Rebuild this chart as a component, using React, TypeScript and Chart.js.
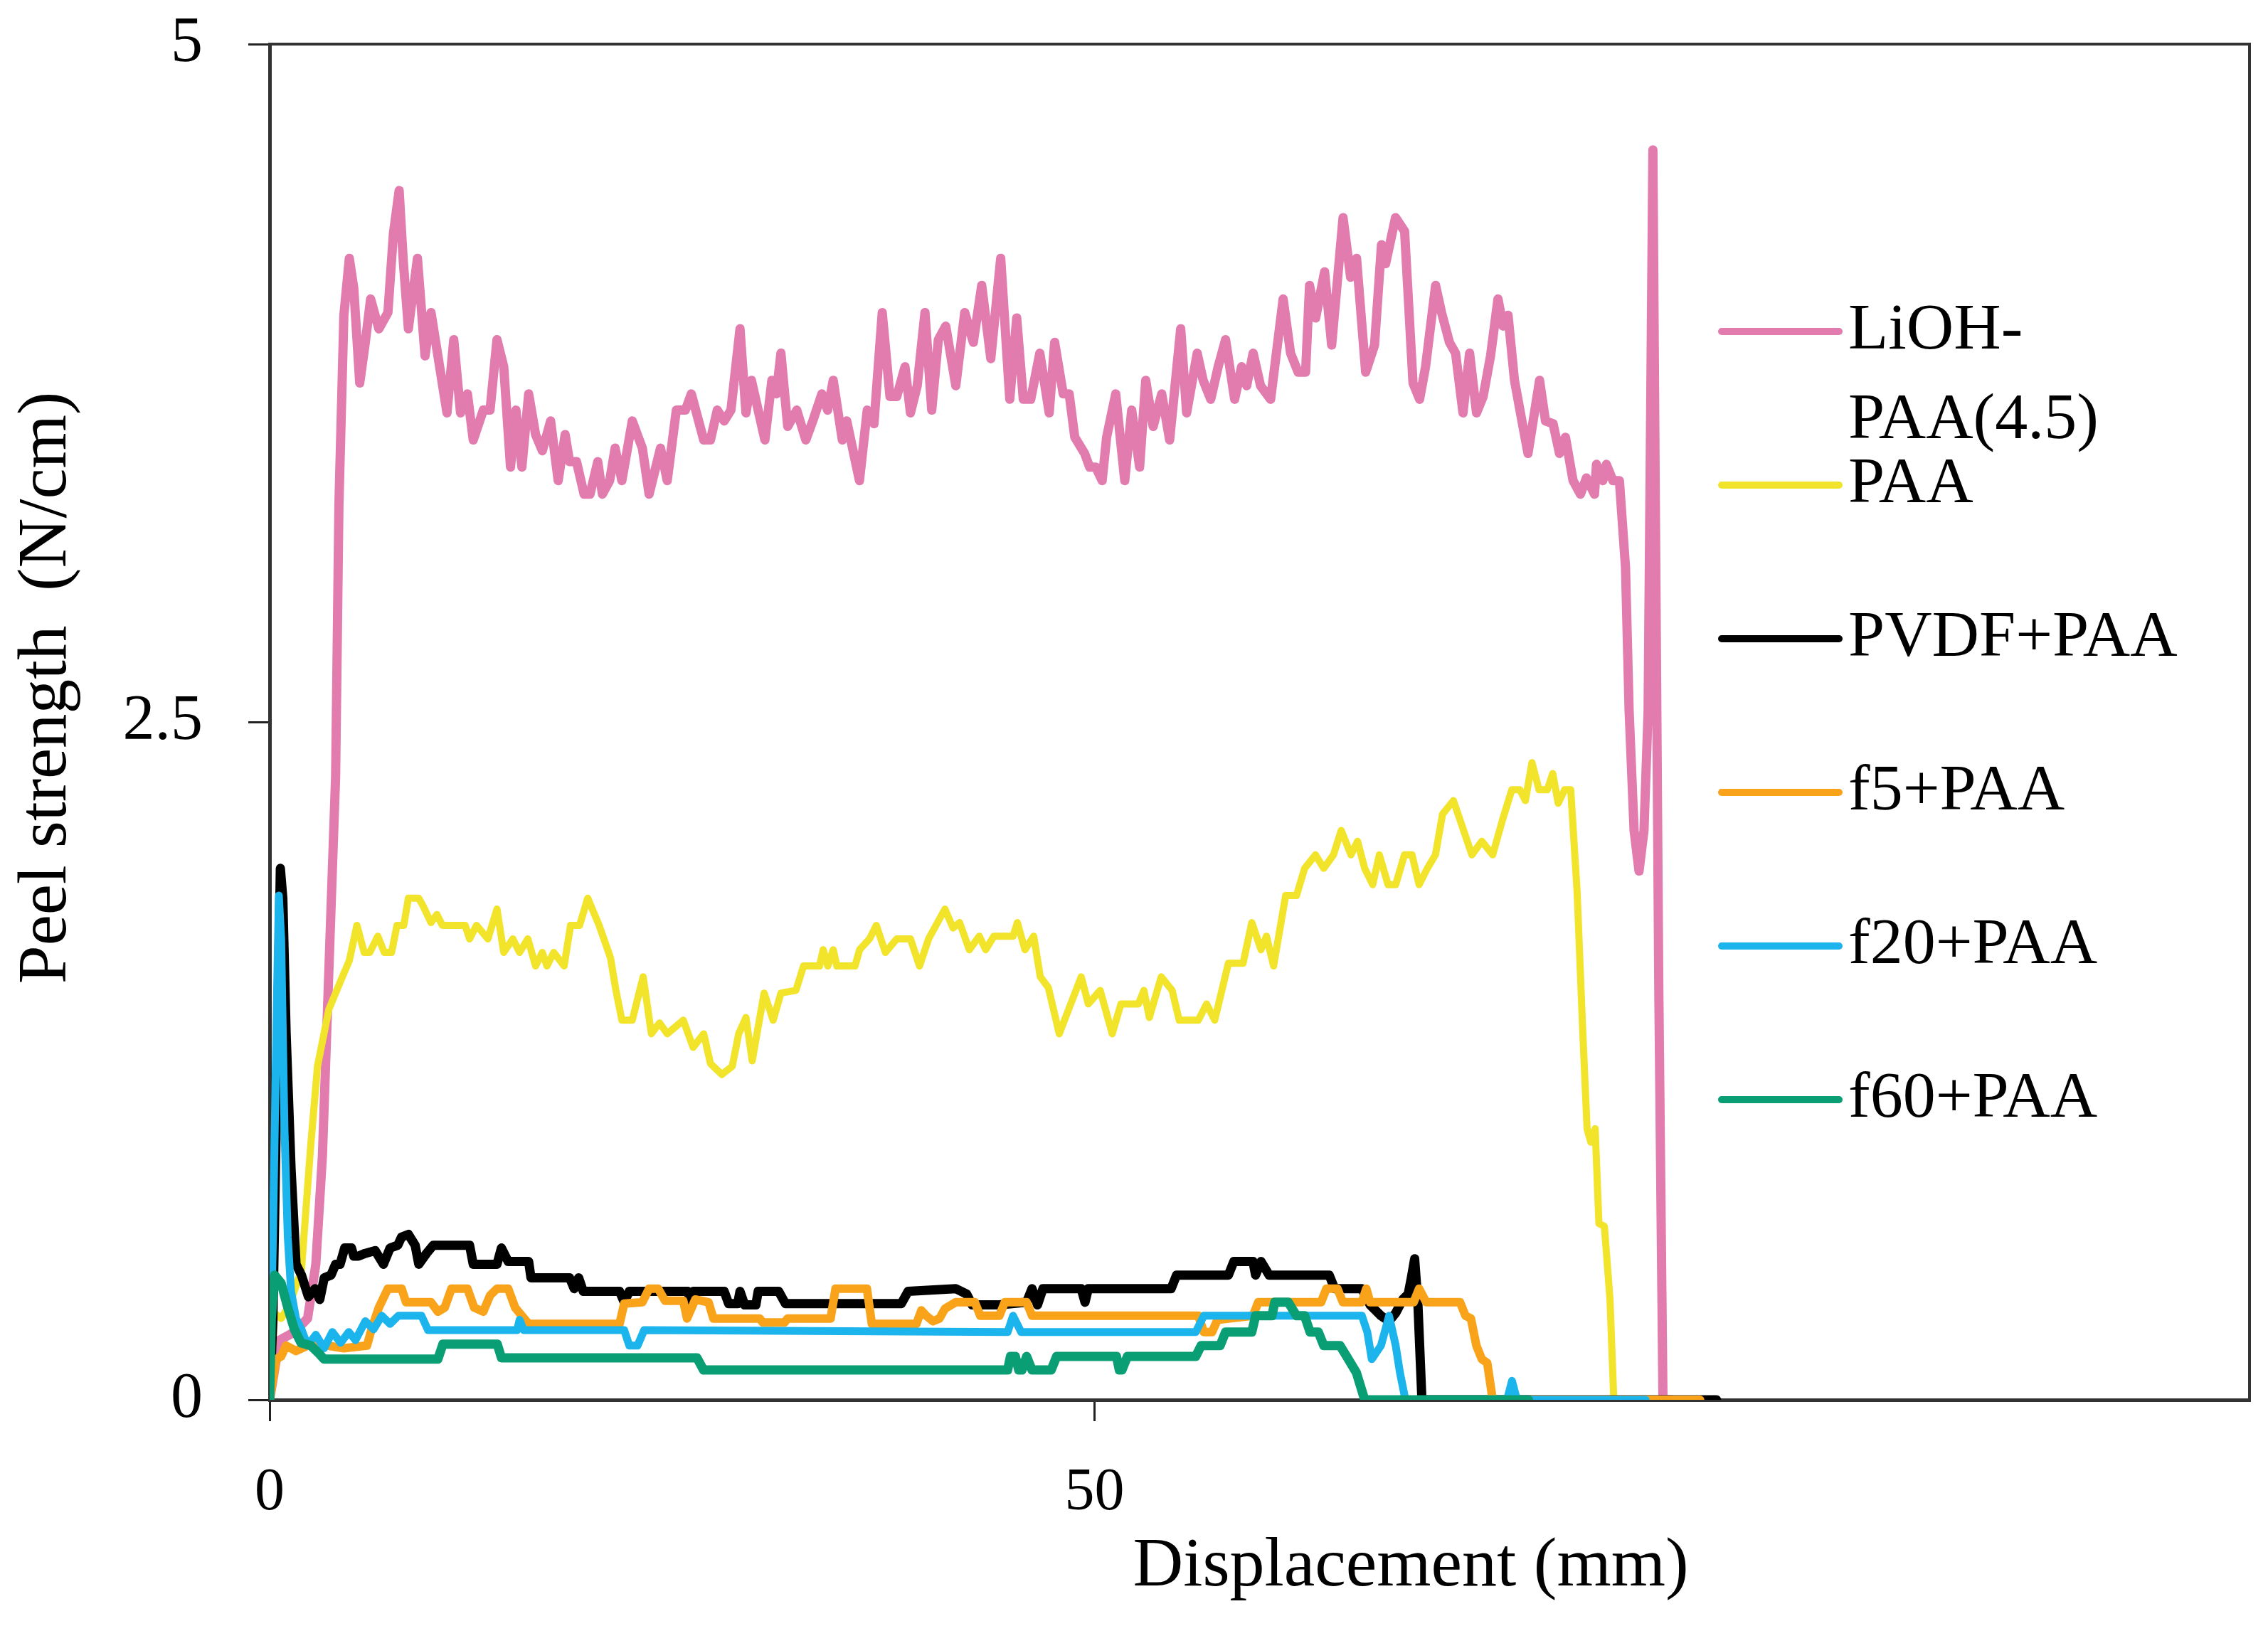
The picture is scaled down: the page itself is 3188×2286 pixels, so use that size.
import React, { useEffect, useRef } from "react";
import { Chart, registerables } from "chart.js";

Chart.register(...registerables);

const CANVAS_W = 3188;
const CANVAS_H = 2286;

const seriesLabels = ["LiOH-PAA(4.5)", "PAA", "PVDF+PAA", "f5+PAA", "f20+PAA", "f60+PAA"];
const seriesColors = ["#E27BAE", "#F2E32B", "#000000", "#F9A31B", "#1BB4EC", "#0A9E74"];
const seriesWidths = [13, 10, 13, 12, 11, 13];
const xTicks = [0, 50];
const yTicks = [0, 2.5, 5];
const xTitle = "Displacement (mm)";
const yTitle = "Peel strength  (N/cm)";

const liohPaa45 = [
  [0, 0], [0.6, 0.22], [1.5, 0.25], [2.3, 0.3], [2.8, 0.5], [3.2, 0.9], [3.6, 1.6], [4.0, 2.3], [4.2, 3.3], [4.5, 4.0],
  [4.83, 4.21], [5.1, 4.1], [5.46, 3.75], [5.8, 3.9], [6.12, 4.06], [6.62, 3.95], [7.17, 4.01], [7.5, 4.3], [7.85, 4.46], [8.1, 4.2],
  [8.41, 3.95], [8.96, 4.21], [9.42, 3.85], [9.78, 4.01], [10.2, 3.85], [10.75, 3.64], [11.16, 3.91], [11.57, 3.64], [11.99, 3.71], [12.34, 3.54],
  [12.95, 3.65], [13.36, 3.65], [13.78, 3.91], [14.19, 3.81], [14.6, 3.44], [14.93, 3.65], [15.29, 3.44], [15.7, 3.71], [16.12, 3.56], [16.53, 3.5],
  [17.03, 3.61], [17.49, 3.39], [17.91, 3.56], [18.18, 3.46], [18.6, 3.46], [19.06, 3.34], [19.42, 3.34], [19.89, 3.46], [20.17, 3.34], [20.61, 3.39],
  [20.94, 3.51], [21.35, 3.39], [21.98, 3.61], [22.59, 3.51], [23.0, 3.34], [23.69, 3.51], [24.1, 3.39], [24.65, 3.65], [25.2, 3.65], [25.56, 3.71],
  [26.31, 3.54], [26.72, 3.54], [27.13, 3.65], [27.55, 3.61], [27.96, 3.65], [28.51, 3.95], [28.87, 3.64], [29.2, 3.76], [30.02, 3.54], [30.44, 3.76],
  [30.71, 3.71], [30.99, 3.86], [31.4, 3.59], [31.95, 3.65], [32.5, 3.54], [32.92, 3.61], [33.47, 3.71], [33.82, 3.65], [34.16, 3.76], [34.71, 3.54],
  [34.98, 3.61], [35.75, 3.39], [36.22, 3.65], [36.63, 3.6], [37.13, 4.01], [37.6, 3.7], [38.01, 3.7], [38.51, 3.81], [38.84, 3.64], [39.25, 3.74],
  [39.72, 4.01], [40.13, 3.65], [40.53, 3.91], [40.98, 3.96], [41.59, 3.74], [42.13, 4.01], [42.65, 3.9], [43.16, 4.11], [43.71, 3.84], [44.31, 4.21],
  [44.86, 3.69], [45.28, 3.99], [45.68, 3.69], [46.13, 3.69], [46.68, 3.86], [47.25, 3.64], [47.58, 3.9], [48.1, 3.71], [48.46, 3.71], [48.8, 3.55],
  [49.4, 3.49], [49.7, 3.44], [50.07, 3.44], [50.46, 3.39], [50.73, 3.55], [51.28, 3.71], [51.83, 3.39], [52.25, 3.65], [52.73, 3.44], [53.1, 3.76],
  [53.55, 3.59], [54.07, 3.71], [54.55, 3.54], [55.22, 3.95], [55.58, 3.64], [56.22, 3.86], [56.58, 3.76], [57.04, 3.69], [57.49, 3.81], [57.94, 3.91],
  [58.49, 3.69], [58.91, 3.81], [59.22, 3.74], [59.61, 3.86], [60.06, 3.74], [60.67, 3.69], [61.43, 4.06], [61.88, 3.86], [62.34, 3.79], [62.79, 3.79],
  [63.03, 4.11], [63.4, 3.99], [63.94, 4.16], [64.37, 3.89], [65.06, 4.36], [65.52, 4.14], [65.88, 4.21], [66.43, 3.79], [66.97, 3.89], [67.39, 4.26],
  [67.64, 4.19], [68.24, 4.36], [68.79, 4.31], [69.3, 3.75], [69.7, 3.69], [70.06, 3.81], [70.67, 4.11], [71.03, 4.01], [71.51, 3.9], [71.88, 3.86],
  [72.33, 3.64], [72.73, 3.86], [73.15, 3.64], [73.55, 3.7], [74.0, 3.85], [74.45, 4.06], [74.76, 3.96], [75.06, 4.0], [75.45, 3.76], [75.81, 3.64],
  [76.27, 3.49], [76.97, 3.76], [77.33, 3.61], [77.79, 3.6], [78.18, 3.49], [78.54, 3.55], [79.0, 3.39], [79.45, 3.34], [79.81, 3.4], [80.3, 3.34],
  [80.42, 3.45], [80.81, 3.39], [81.02, 3.45], [81.42, 3.39], [81.81, 3.39], [82.18, 3.07], [82.4, 2.54], [82.7, 2.1], [83.0, 1.95], [83.3, 2.1],
  [83.55, 2.54], [83.84, 4.61], [84.0, 3.2], [84.2, 1.5], [84.45, 0], [85.0, 0],
];

const paa = [
  [0, 0], [0.3, 0.32], [0.7, 0.3], [1.2, 0.35], [1.6, 0.42], [1.93, 0.48], [2.48, 0.93], [2.9, 1.23], [3.59, 1.44], [4.0, 1.5],
  [4.41, 1.56], [4.83, 1.62], [5.29, 1.75], [5.73, 1.65], [6.07, 1.65], [6.56, 1.71], [6.95, 1.65], [7.39, 1.65], [7.72, 1.75], [8.13, 1.75],
  [8.41, 1.85], [9.04, 1.85], [9.31, 1.82], [9.78, 1.76], [10.14, 1.79], [10.47, 1.75], [11.85, 1.75], [12.12, 1.7], [12.54, 1.75], [13.23, 1.7],
  [13.78, 1.81], [14.19, 1.65], [14.74, 1.7], [15.15, 1.65], [15.65, 1.7], [16.12, 1.6], [16.53, 1.65], [16.81, 1.6], [17.22, 1.65], [17.85, 1.6],
  [18.24, 1.75], [18.79, 1.75], [19.28, 1.85], [19.97, 1.75], [20.66, 1.63], [20.99, 1.51], [21.35, 1.4], [21.98, 1.4], [22.64, 1.56], [23.14, 1.35],
  [23.63, 1.39], [24.1, 1.35], [25.07, 1.4], [25.67, 1.3], [26.31, 1.35], [26.72, 1.24], [27.41, 1.2], [28.04, 1.23], [28.43, 1.35], [28.87, 1.41],
  [29.25, 1.25], [29.97, 1.5], [30.52, 1.4], [30.99, 1.5], [31.9, 1.51], [32.36, 1.6], [33.33, 1.6], [33.55, 1.66], [33.83, 1.6], [34.16, 1.66],
  [34.38, 1.6], [35.48, 1.6], [35.76, 1.66], [36.36, 1.7], [36.77, 1.75], [37.32, 1.65], [38.01, 1.7], [38.84, 1.7], [39.39, 1.6], [39.94, 1.7],
  [40.93, 1.81], [41.42, 1.74], [41.82, 1.76], [42.41, 1.66], [43.01, 1.71], [43.4, 1.66], [43.9, 1.71], [45.06, 1.71], [45.32, 1.76], [45.78, 1.66],
  [46.31, 1.71], [46.71, 1.56], [47.2, 1.52], [47.86, 1.35], [48.43, 1.44], [49.19, 1.56], [49.62, 1.46], [50.34, 1.51], [51.07, 1.35], [51.6, 1.46],
  [52.66, 1.46], [52.99, 1.51], [53.32, 1.41], [54.04, 1.56], [54.7, 1.51], [55.13, 1.4], [56.29, 1.4], [56.79, 1.46], [57.28, 1.4], [58.11, 1.61],
  [59.0, 1.61], [59.53, 1.76], [60.09, 1.66], [60.42, 1.71], [60.85, 1.6], [61.58, 1.86], [62.24, 1.86], [62.73, 1.96], [63.39, 2.01], [63.89, 1.96],
  [64.48, 2.01], [64.95, 2.1], [65.54, 2.01], [65.94, 2.06], [66.37, 1.96], [66.86, 1.9], [67.26, 2.01], [67.79, 1.9], [68.25, 1.9], [68.78, 2.01],
  [69.24, 2.01], [69.67, 1.9], [70.17, 1.96], [70.66, 2.01], [71.09, 2.16], [71.75, 2.21], [72.31, 2.11], [72.87, 2.01], [73.47, 2.06], [74.13, 2.01],
  [74.73, 2.14], [75.29, 2.25], [75.78, 2.25], [76.11, 2.21], [76.51, 2.35], [76.94, 2.25], [77.44, 2.25], [77.77, 2.31], [78.1, 2.2], [78.49, 2.25],
  [78.86, 2.25], [79.25, 1.87], [79.58, 1.37], [79.85, 1.0], [80.08, 0.95], [80.34, 1.0], [80.57, 0.65], [80.9, 0.64], [81.24, 0.37], [81.47, 0],
  [82.0, 0],
];

const pvdfPaa = [
  [0, 0], [0.2, 0.3], [0.45, 1.2], [0.65, 1.96], [0.8, 1.85], [1.0, 1.35], [1.3, 0.85], [1.6, 0.5], [1.93, 0.46], [2.35, 0.38],
  [2.76, 0.41], [3.04, 0.37], [3.31, 0.45], [3.72, 0.46], [4.0, 0.5], [4.27, 0.5], [4.55, 0.56], [4.96, 0.56], [5.1, 0.53], [5.38, 0.53],
  [5.79, 0.54], [6.4, 0.55], [6.9, 0.5], [7.3, 0.56], [7.77, 0.57], [7.99, 0.6], [8.41, 0.61], [8.82, 0.57], [9.04, 0.5], [9.51, 0.54],
  [9.92, 0.57], [12.12, 0.57], [12.34, 0.5], [13.78, 0.5], [14.05, 0.56], [14.46, 0.51], [15.7, 0.51], [15.84, 0.45], [18.18, 0.45], [18.46, 0.41],
  [18.73, 0.45], [19.01, 0.4], [21.21, 0.4], [21.49, 0.36], [21.8, 0.4], [25.34, 0.4], [25.56, 0.355], [25.67, 0.4], [27.55, 0.4], [27.82, 0.355],
  [28.37, 0.355], [28.51, 0.4], [28.79, 0.35], [29.47, 0.35], [29.61, 0.4], [30.85, 0.4], [31.26, 0.355], [38.29, 0.355], [38.7, 0.4], [41.59, 0.41],
  [42.25, 0.39], [42.58, 0.35], [44.23, 0.35], [45.88, 0.36], [46.21, 0.41], [46.54, 0.35], [46.87, 0.41], [49.19, 0.41], [49.42, 0.36], [49.62, 0.41],
  [54.64, 0.41], [54.97, 0.46], [58.11, 0.46], [58.44, 0.51], [59.6, 0.51], [59.76, 0.46], [60.09, 0.51], [60.58, 0.46], [64.22, 0.46], [64.55, 0.41],
  [66.2, 0.41], [66.7, 0.35], [67.36, 0.31], [67.85, 0.29], [68.25, 0.32], [68.68, 0.37], [69.01, 0.39], [69.2, 0.45], [69.4, 0.52], [69.6, 0.35],
  [69.84, 0], [87.7, 0],
];

const f5Paa = [
  [0, 0], [0.4, 0.15], [0.7, 0.16], [1.0, 0.2], [1.6, 0.18], [2.3, 0.2], [3.5, 0.2], [4.5, 0.19], [5.9, 0.2], [6.2, 0.265],
  [6.62, 0.34], [7.17, 0.41], [8.0, 0.41], [8.27, 0.36], [9.78, 0.36], [10.2, 0.325], [10.61, 0.34], [11.02, 0.41], [11.99, 0.41], [12.4, 0.34],
  [12.95, 0.325], [13.36, 0.385], [13.78, 0.41], [14.46, 0.41], [14.88, 0.34], [15.29, 0.31], [15.7, 0.28], [21.21, 0.28], [21.49, 0.355], [22.59, 0.36],
  [23.0, 0.41], [23.55, 0.41], [23.97, 0.365], [25.07, 0.365], [25.3, 0.3], [25.8, 0.37], [26.6, 0.36], [26.9, 0.3], [29.7, 0.3], [29.9, 0.285],
  [31.2, 0.285], [31.4, 0.3], [34.0, 0.3], [34.3, 0.41], [36.2, 0.41], [36.5, 0.28], [39.2, 0.28], [39.5, 0.33], [39.8, 0.31], [40.21, 0.29],
  [40.6, 0.3], [40.93, 0.336], [41.59, 0.36], [42.74, 0.36], [43.07, 0.31], [44.23, 0.31], [44.56, 0.36], [45.88, 0.36], [46.21, 0.31], [56.29, 0.31],
  [56.62, 0.25], [57.12, 0.25], [57.45, 0.295], [59.6, 0.31], [59.92, 0.36], [63.73, 0.36], [64.05, 0.41], [64.72, 0.41], [65.05, 0.36], [66.2, 0.36],
  [66.47, 0.41], [66.7, 0.36], [69.34, 0.36], [69.67, 0.41], [70.1, 0.36], [72.15, 0.36], [72.48, 0.31], [72.81, 0.3], [73.14, 0.2], [73.47, 0.15],
  [73.8, 0.136], [74.13, 0], [86.7, 0],
];

const f20Paa = [
  [0, 0], [0.2, 0.6], [0.45, 1.5], [0.56, 1.86], [0.7, 1.7], [0.9, 1.0], [1.1, 0.6], [1.3, 0.4], [1.6, 0.3], [1.93, 0.26],
  [2.3, 0.2], [2.8, 0.24], [3.3, 0.19], [3.8, 0.25], [4.3, 0.21], [4.8, 0.25], [5.2, 0.22], [5.8, 0.29], [6.3, 0.26], [6.8, 0.31],
  [7.3, 0.28], [7.8, 0.31], [8.3, 0.31], [9.2, 0.31], [9.6, 0.257], [15.0, 0.257], [15.15, 0.295], [15.4, 0.257], [21.49, 0.257], [21.8, 0.2],
  [22.3, 0.2], [22.7, 0.257], [44.73, 0.25], [45.06, 0.31], [45.55, 0.25], [46.05, 0.25], [56.13, 0.25], [56.62, 0.31], [66.2, 0.31], [66.53, 0.25],
  [66.8, 0.15], [67.36, 0.2], [67.85, 0.31], [68.25, 0.2], [68.51, 0.1], [68.84, 0], [75.0, 0], [75.3, 0.07], [75.6, 0], [83.4, 0],
];

const f60Paa = [
  [0, 0], [0.1, 0.3], [0.3, 0.46], [0.7, 0.43], [1.1, 0.34], [1.5, 0.26], [1.9, 0.21], [2.5, 0.2], [3.0, 0.17], [3.3, 0.15],
  [10.2, 0.15], [10.5, 0.205], [13.8, 0.205], [14.05, 0.155], [25.9, 0.155], [26.3, 0.11], [44.73, 0.11], [44.9, 0.16], [45.2, 0.16], [45.4, 0.11],
  [45.6, 0.11], [45.88, 0.16], [46.21, 0.11], [47.37, 0.11], [47.7, 0.16], [51.33, 0.16], [51.5, 0.11], [51.66, 0.11], [51.99, 0.16], [56.13, 0.16],
  [56.46, 0.2], [57.61, 0.2], [57.94, 0.25], [59.53, 0.25], [59.76, 0.31], [60.75, 0.31], [60.92, 0.36], [61.74, 0.36], [62.24, 0.31], [62.73, 0.31],
  [63.06, 0.25], [63.56, 0.25], [63.89, 0.2], [64.88, 0.2], [65.38, 0.15], [65.87, 0.1], [66.37, 0], [76.3, 0],
];

const seriesData = [liohPaa45, paa, pvdfPaa, f5Paa, f20Paa, f60Paa];

const FONT = '"Liberation Serif", "Times New Roman", serif';

export default function App() {
  const ref = useRef<HTMLCanvasElement>(null);

  useEffect(() => {
    const canvas = ref.current;
    if (!canvas) return;

    const area = { left: 379, top: 62, right: 3162, bottom: 1968 };

    const decorPlugin = {
      id: "decor",
      afterDraw(chart: any) {
        const ctx = chart.ctx as CanvasRenderingContext2D;
        const ca = chart.chartArea;
        ctx.save();
        ctx.strokeStyle = "#333";
        ctx.lineWidth = 4;
        ctx.beginPath();
        ctx.moveTo(ca.left, ca.top);
        ctx.lineTo(ca.right, ca.top);
        ctx.lineTo(ca.right, ca.bottom);
        ctx.stroke();

        const lx0 = 2420;
        const lx1 = 2585;
        const tx = 2598;
        const y0 = 466;
        const dy = 216;
        const lh = 126;
        ctx.font = `92px ${FONT}`;
        ctx.textBaseline = "middle";
        ctx.textAlign = "left";
        const maxW = ca.right - tx - 20;
        chart.data.datasets.forEach((ds: any, i: number) => {
          const y = y0 + i * dy;
          ctx.strokeStyle = ds.borderColor;
          ctx.lineWidth = 10;
          ctx.lineCap = "round";
          ctx.beginPath();
          ctx.moveTo(lx0, y);
          ctx.lineTo(lx1, y);
          ctx.stroke();
          ctx.fillStyle = "#000";
          const label: string = ds.label;
          let lines = [label];
          if (ctx.measureText(label).width > maxW && label.indexOf("-") >= 0) {
            const k = label.indexOf("-");
            lines = [label.slice(0, k + 1), label.slice(k + 1)];
          }
          lines.forEach((ln, j) => ctx.fillText(ln, tx, y + j * lh));
        });

        ctx.fillStyle = "#000";
        ctx.font = `98px ${FONT}`;
        ctx.textAlign = "center";
        ctx.textBaseline = "middle";
        ctx.fillText(xTitle, 1983, 2203);
        ctx.save();
        ctx.translate(67, 967);
        ctx.rotate(-Math.PI / 2);
        ctx.font = `97px ${FONT}`;
        ctx.fillText(yTitle, 0, 0);
        ctx.restore();
        ctx.restore();
      },
    };

    const chart = new Chart(canvas, {
      type: "line",
      data: {
        datasets: seriesLabels.map((label, i) => ({
          label,
          data: seriesData[i].map(([x, y]) => ({ x, y })),
          borderColor: seriesColors[i],
          backgroundColor: seriesColors[i],
          borderWidth: seriesWidths[i],
          pointRadius: 0,
          pointHoverRadius: 0,
          tension: 0,
          fill: false,
          borderJoinStyle: "round" as const,
          borderCapStyle: "round" as const,
          order: seriesLabels.length - i,
        })),
      },
      options: {
        responsive: false,
        animation: false,
        devicePixelRatio: 1,
        events: [],
        layout: {
          padding: { top: area.top, right: CANVAS_W - area.right, left: 0, bottom: 0 },
        },
        plugins: {
          legend: { display: false },
          tooltip: { enabled: false },
          title: { display: false },
        },
        scales: {
          x: {
            type: "linear",
            min: 0,
            max: 120,
            afterBuildTicks: (s: any) => {
              s.ticks = xTicks.map((v) => ({ value: v }));
            },
            afterFit: (s: any) => {
              s.height = CANVAS_H - area.bottom;
              s.paddingLeft = 0;
              s.paddingRight = 0;
            },
            ticks: {
              color: "#000",
              font: { family: FONT, size: 84 },
              padding: 52,
              autoSkip: false,
              maxRotation: 0,
              callback: (v: any) => String(v),
            },
            grid: {
              display: true,
              drawOnChartArea: false,
              drawTicks: true,
              tickLength: 30,
              color: "#222",
              lineWidth: 3,
            },
            border: { display: true, color: "#333", width: 5 },
          },
          y: {
            type: "linear",
            min: 0,
            max: 5,
            afterBuildTicks: (s: any) => {
              s.ticks = yTicks.map((v) => ({ value: v }));
            },
            afterFit: (s: any) => {
              s.width = area.left;
              s.paddingTop = 0;
              s.paddingBottom = 0;
            },
            ticks: {
              color: "#000",
              font: { family: FONT, size: 90 },
              padding: 64,
              autoSkip: false,
              callback: (v: any) => String(v),
            },
            grid: {
              display: true,
              drawOnChartArea: false,
              drawTicks: true,
              tickLength: 30,
              color: "#222",
              lineWidth: 3,
            },
            border: { display: true, color: "#333", width: 5 },
          },
        },
      },
      plugins: [decorPlugin],
    } as any);

    return () => {
      chart.destroy();
    };
  }, []);

  return (
    <div style={{ position: "absolute", left: 0, top: 0, width: CANVAS_W, height: CANVAS_H, background: "#fff" }}>
      <canvas
        ref={ref}
        width={CANVAS_W}
        height={CANVAS_H}
        style={{ display: "block", width: CANVAS_W, height: CANVAS_H }}
      />
    </div>
  );
}
